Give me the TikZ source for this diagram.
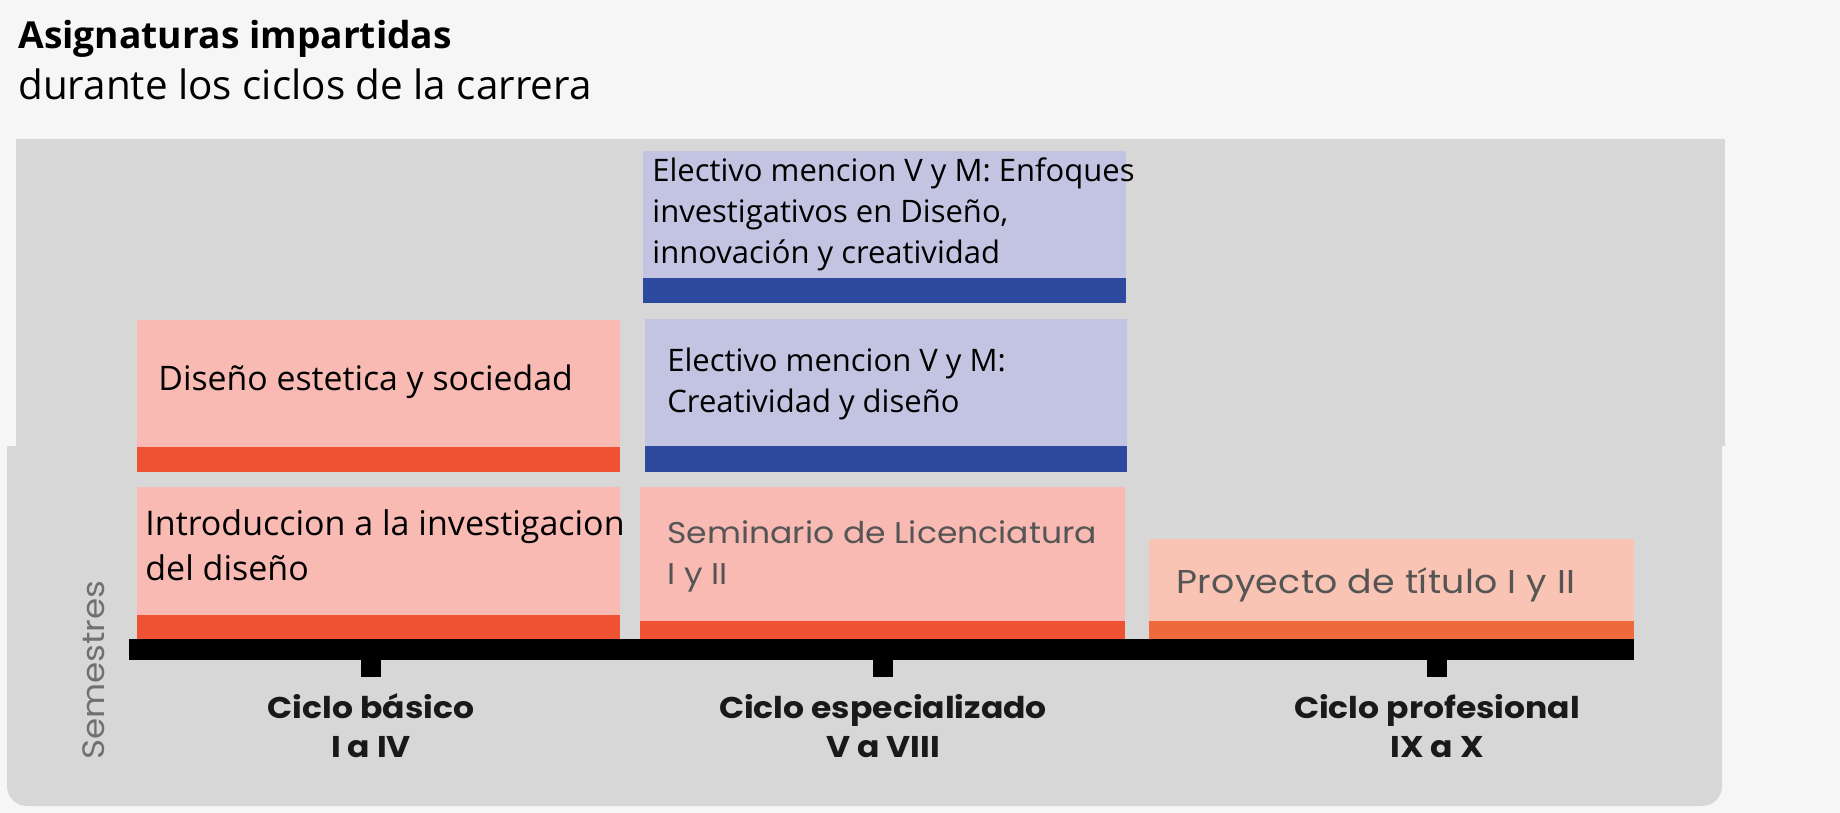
\documentclass[tikz,border=0pt]{standalone}
\usepackage{fontspec}
\setmainfont{Open Sans}
\newfontfamily\cyclefont[FakeStretch=1.1]{Poppins}
\usetikzlibrary{positioning}
\definecolor{page}{HTML}{F6F6F6}
\definecolor{panel}{HTML}{D7D7D7}
\definecolor{rose}{HTML}{F9BAB3}
\definecolor{ember}{HTML}{EF5232}
\definecolor{peach}{HTML}{F9C4B4}
\definecolor{coral}{HTML}{EE6A3C}
\definecolor{lilac}{HTML}{C3C3E2}
\definecolor{navy}{HTML}{2E4A9E}
\definecolor{slate}{HTML}{555555}
\definecolor{ash}{HTML}{707070}

\begin{document}
\begin{tikzpicture}[x=0.5pt,y=-0.5pt,
    course/.style={anchor=west,inner sep=0pt,align=left,font=\fontsize{15.5}{20.5}\selectfont},
    coursegray/.style={anchor=west,inner sep=0pt,align=left,text=slate,font=\cyclefont\fontsize{15}{20.5}\selectfont},
    cycle/.style={inner sep=0pt,align=center,text=black!90,font=\cyclefont\bfseries\fontsize{15}{19.5}\selectfont}]
        \useasboundingbox (0,0) rectangle (1840,813);
        \fill[page] (0,0) rectangle (1840,813);
        % heading
        \node[anchor=base west,inner sep=0pt,font=\fontsize{18.6}{22}\selectfont\bfseries] (title) at (18,49) {Asignaturas impartidas};
        \node[anchor=base west,inner sep=0pt,font=\fontsize{20.2}{24}\selectfont] (subtitle) at (18,100) {durante los ciclos de la carrera};
        % grey panel
        \fill[panel] (16,139) rectangle (1725,446);
        \fill[panel] (7,446) [rounded corners=10pt] -- (7,806) -- (1722,806) [sharp corners] -- (1722,446) -- cycle;
        % ciclo basico
        \fill[rose] (137,320) rectangle (620,447);
        \fill[ember] (137,447) rectangle (620,472);
        \fill[rose] (137,487) rectangle (620,615);
        \fill[ember] (137,615) rectangle (620,639);
        \node[course,font=\fontsize{16.9}{22}\selectfont] (estetica) at (158,382) {Diseño estetica y sociedad};
        \node[course,font=\fontsize{17}{22.5}\selectfont] (intro) at (145,545) {Introduccion a la investigacion\\del diseño};
        % ciclo especializado
        \fill[lilac] (643,151) rectangle (1126,278);
        \fill[navy] (643,278) rectangle (1126,303);
        \fill[lilac] (645,319) rectangle (1127,446);
        \fill[navy] (645,446) rectangle (1127,472);
        \fill[rose] (640,487) rectangle (1125,621);
        \fill[ember] (640,621) rectangle (1125,639);
        \node[course] (enfoques) at (652,214) {Electivo mencion V y M: Enfoques\\investigativos en Diseño,\\innovación y creatividad};
        \node[course] (creatividad) at (667,384) {Electivo mencion V y M:\\Creatividad y diseño};
        \node[coursegray] (seminario) at (667,556) {Seminario de Licenciatura\\I y II};
        % ciclo profesional
        \fill[peach] (1149,539) rectangle (1634,621);
        \fill[coral] (1149,621) rectangle (1634,639);
        \node[coursegray,font=\cyclefont\addfontfeature{LetterSpace=1}\fontsize{16.5}{20.5}\selectfont] (proyecto) at (1176,585) {Proyecto de título I y II};
        % axis
        \fill[black] (129,639) rectangle (1634,660);
        \fill[black] (361,660) rectangle (381,677);
        \fill[black] (873,660) rectangle (893,677);
        \fill[black] (1427,660) rectangle (1447,677);
        \node[cycle] (basico) at (371,726) {Ciclo básico\\I a IV};
        \node[cycle] (especializado) at (883,726) {Ciclo especializado\\V a VIII};
        \node[cycle] (profesional) at (1437,726) {Ciclo profesional\\IX a X};
        \node[rotate=90,inner sep=0pt,text=ash,font=\cyclefont\fontsize{15.5}{20}\selectfont] (semestres) at (94,670) {Semestres};
      \end{tikzpicture}
\end{document}
